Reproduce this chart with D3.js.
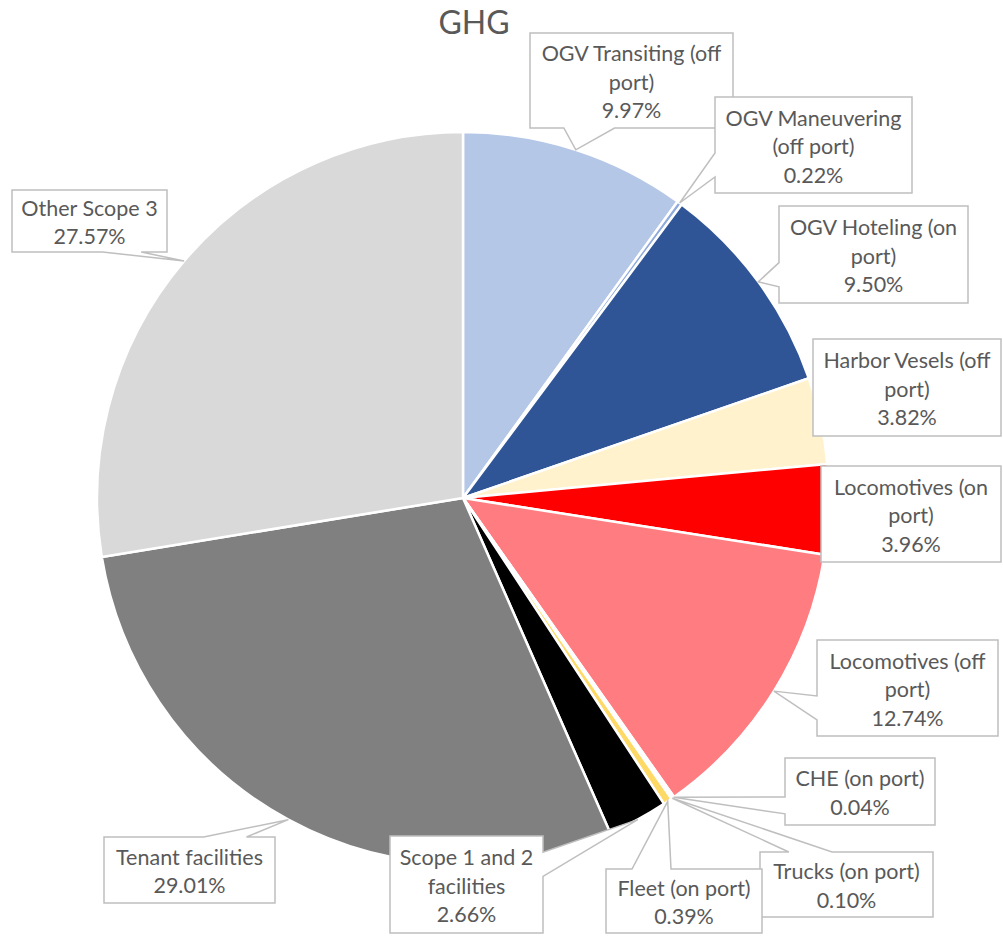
<!DOCTYPE html>
<html><head><meta charset="utf-8">
<script src="https://cdn.jsdelivr.net/npm/d3@7"></script>
<style>body{margin:0;background:#fff} svg{display:block}</style>
</head><body>
<svg id="chart" width="1003" height="936"></svg>
<script>
const title = "GHG";
const categories = ["OGV Transiting (off port)", "OGV Maneuvering (off port)", "OGV Hoteling (on port)", "Harbor Vesels (off port)", "Locomotives (on port)", "Locomotives (off port)", "CHE (on port)", "Trucks (on port)", "Fleet (on port)", "Scope 1 and 2 facilities", "Tenant facilities", "Other Scope 3"];
const values = [9.97, 0.22, 9.50, 3.82, 3.96, 12.74, 0.04, 0.10, 0.39, 2.66, 29.01, 27.57];
const colors = ["#B4C7E7", "#8FAADC", "#2F5597", "#FFF2CC", "#FF0000", "#FF7C80", "#C00000", "#FFC000", "#FFD966", "#000000", "#808080", "#D9D9D9"];
// label box layout (x, y, width, height)
const labelBoxes = [
  [530, 33, 203, 95], [715, 97, 197, 96], [779, 206, 189, 97], [813, 339, 188, 97],
  [821, 466, 180, 96], [817, 640, 181, 96], [785, 758, 150, 67], [760, 852, 173, 65],
  [606, 869, 156, 64], [390, 836, 153, 97], [104, 837, 171, 66], [12, 190, 155, 62]
];

const W = 1003, H = 936, cx = 463, cy = 498, R = 366;
const textColor = "#595959", font = "Lato, 'Open Sans', sans-serif", fs = 21.5;
const svg = d3.select("#chart");

svg.append("text").attr("x", 474).attr("y", 34).attr("text-anchor", "middle")
  .attr("font-family", font).attr("font-size", 32).attr("fill", textColor).text(title);

const pie = d3.pie().sort(null).value(d => d)(values);
const arc = d3.arc().innerRadius(0).outerRadius(R);
const g = svg.append("g").attr("transform", `translate(${cx},${cy})`);
g.selectAll("path").data(pie).join("path")
  .attr("d", arc).attr("fill", (d, i) => colors[i])
  .attr("stroke", "#fff").attr("stroke-width", 2.5).attr("stroke-linejoin", "round");

function calloutPath(b, tip) {
  const [l, t, w, h] = b, r = l + w, bt = t + h, mx = l + w / 2, my = t + h / 2;
  const dx = tip[0] - mx, dy = tip[1] - my;
  const p = d3.path();
  const inside = tip[0] >= l && tip[0] <= r && tip[1] >= t && tip[1] <= bt;
  const vertical = Math.abs(dy) - Math.abs(dx * h / w) > 0;
  const x1 = l + w * (dx > 0 ? 7 : 2) / 12, x2 = l + w * (dx > 0 ? 10 : 5) / 12;
  const y1 = t + h * (dy > 0 ? 7 : 2) / 12, y2 = t + h * (dy > 0 ? 10 : 5) / 12;
  p.moveTo(l, t);
  if (!inside && vertical && dy < 0) { p.lineTo(x1, t); p.lineTo(tip[0], tip[1]); p.lineTo(x2, t); }
  p.lineTo(r, t);
  if (!inside && !vertical && dx > 0) { p.lineTo(r, y1); p.lineTo(tip[0], tip[1]); p.lineTo(r, y2); }
  p.lineTo(r, bt);
  if (!inside && vertical && dy > 0) { p.lineTo(x2, bt); p.lineTo(tip[0], tip[1]); p.lineTo(x1, bt); }
  p.lineTo(l, bt);
  if (!inside && !vertical && dx < 0) { p.lineTo(l, y2); p.lineTo(tip[0], tip[1]); p.lineTo(l, y1); }
  p.closePath();
  return p.toString();
}

const measure = svg.append("text").attr("font-family", font).attr("font-size", fs).attr("visibility", "hidden");
function wrap(str, maxW) {
  const words = str.split(" "), lines = [];
  let cur = "";
  words.forEach(wd => {
    const test = cur ? cur + " " + wd : wd;
    measure.text(test);
    if (cur && measure.node().getComputedTextLength() > maxW) { lines.push(cur); cur = wd; }
    else cur = test;
  });
  if (cur) lines.push(cur);
  return lines;
}

const lineH = 28.5;
const labels = svg.append("g");
pie.forEach((d, i) => {
  const mid = (d.startAngle + d.endAngle) / 2;
  const tip = [cx + R * Math.sin(mid), cy - R * Math.cos(mid)];
  const b = labelBoxes[i];
  const lg = labels.append("g");
  lg.append("path").attr("d", calloutPath(b, tip))
    .attr("fill", "#fff").attr("stroke", "#BFBFBF").attr("stroke-width", 1.5);
  const lines = wrap(categories[i], b[2] - 6).concat([values[i].toFixed(2) + "%"]);
  const mx = b[0] + b[2] / 2, my = b[1] + b[3] / 2;
  lines.forEach((ln, k) => {
    lg.append("text").attr("x", mx).attr("y", my - (lines.length - 1) / 2 * lineH + k * lineH + 9)
      .attr("text-anchor", "middle").attr("font-family", font).attr("font-size", fs)
      .attr("fill", textColor).text(ln);
  });
});
measure.remove();
</script>
</body></html>
